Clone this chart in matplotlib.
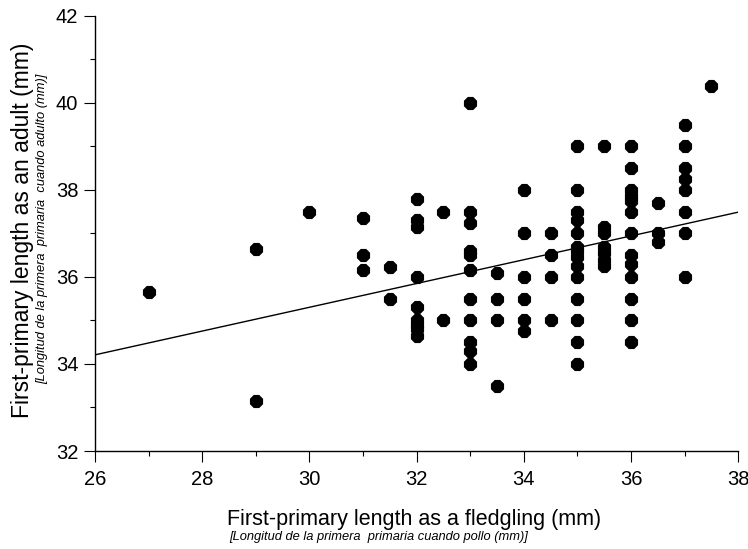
import matplotlib
matplotlib.use("Agg")
import matplotlib.pyplot as plt
from matplotlib.ticker import MultipleLocator

plt.rcParams['font.family'] = ['Liberation Sans', 'DejaVu Sans']

# fledgling length (x) and adult length (y), read column by column
x27 = [27]; y27 = [35.65]
x29 = [29, 29]; y29 = [36.65, 33.15]
x30 = [30]; y30 = [37.5]
x31 = [31, 31, 31]; y31 = [37.35, 36.5, 36.15]
x315 = [31.5, 31.5]; y315 = [36.22, 35.5]
x32 = [32] * 9; y32 = [37.8, 37.3, 37.15, 36.0, 35.3, 35.0, 34.9, 34.8, 34.65]
x325 = [32.5, 32.5]; y325 = [37.5, 35.0]
x33 = [33] * 11; y33 = [40.0, 37.5, 37.25, 36.6, 36.5, 36.15, 35.5, 35.0, 34.5, 34.3, 34.0]
x335 = [33.5] * 4; y335 = [36.1, 35.5, 35.0, 33.5]
x34 = [34] * 6; y34 = [38.0, 37.0, 36.0, 35.5, 35.0, 34.75]
x345 = [34.5] * 4; y345 = [37.0, 36.5, 36.0, 35.0]
x35 = [35] * 14; y35 = [39.0, 38.0, 37.5, 37.3, 37.0, 36.7, 36.6, 36.45, 36.25, 36.0, 35.5, 35.0, 34.5, 34.0]
x355 = [35.5] * 7; y355 = [39.0, 37.15, 37.0, 36.7, 36.55, 36.4, 36.25]
x36 = [36] * 13; y36 = [39.0, 38.5, 38.0, 37.85, 37.75, 37.5, 37.0, 36.5, 36.3, 36.0, 35.5, 35.0, 34.5]
x365 = [36.5] * 3; y365 = [37.7, 37.0, 36.8]
x37 = [37] * 8; y37 = [39.5, 39.0, 38.5, 38.25, 38.0, 37.5, 37.0, 36.0]
x375 = [37.5]; y375 = [40.4]

fledgling = (x27 + x29 + x30 + x31 + x315 + x32 + x325 + x33 + x335 + x34
             + x345 + x35 + x355 + x36 + x365 + x37 + x375)
adult = (y27 + y29 + y30 + y31 + y315 + y32 + y325 + y33 + y335 + y34
         + y345 + y35 + y355 + y36 + y365 + y37 + y375)

# regression line end points
line_x = [26, 38]
line_y = [34.21, 37.49]

fig = plt.figure(figsize=(7.48, 5.49), dpi=100)
ax = fig.add_axes([0.127, 0.1785, 0.86, 0.7925])

ax.scatter(fledgling, adult, s=105, c='black', marker='8', linewidths=0, zorder=3)
ax.plot(line_x, line_y, color='black', linewidth=1.0, zorder=2)

ax.set_xlim(26, 38)
ax.set_ylim(32, 42)
ax.xaxis.set_major_locator(MultipleLocator(2))
ax.xaxis.set_minor_locator(MultipleLocator(1))
ax.yaxis.set_major_locator(MultipleLocator(2))
ax.yaxis.set_minor_locator(MultipleLocator(1))
ax.tick_params(which='major', direction='out', length=8, width=0.8, labelsize=14.5)
ax.tick_params(which='minor', direction='out', length=3.5, width=0.8)
ax.tick_params(axis='x', which='major', pad=6)
ax.tick_params(axis='y', which='major', pad=4)

for side in ['top', 'right']:
    ax.spines[side].set_visible(False)
for side in ['left', 'bottom']:
    ax.spines[side].set_linewidth(1.0)

fig.text(0.554, 0.0437, 'First-primary length as a fledgling (mm)',
         ha='center', va='baseline', fontsize=15.5)
fig.text(0.306, 0.017, '[Longitud de la primera  primaria cuando pollo (mm)]',
         ha='left', va='baseline', fontsize=9.3, style='italic')
fig.text(0.030, 0.581, 'First-primary length as an adult (mm)',
         ha='center', va='center', fontsize=16.5, rotation=90)
fig.text(0.056, 0.583, '[Longitud de la primera  primaria  cuando adulto (mm)]',
         ha='center', va='center', fontsize=9.3, style='italic', rotation=90)

fig.savefig('out.png', dpi=100)
